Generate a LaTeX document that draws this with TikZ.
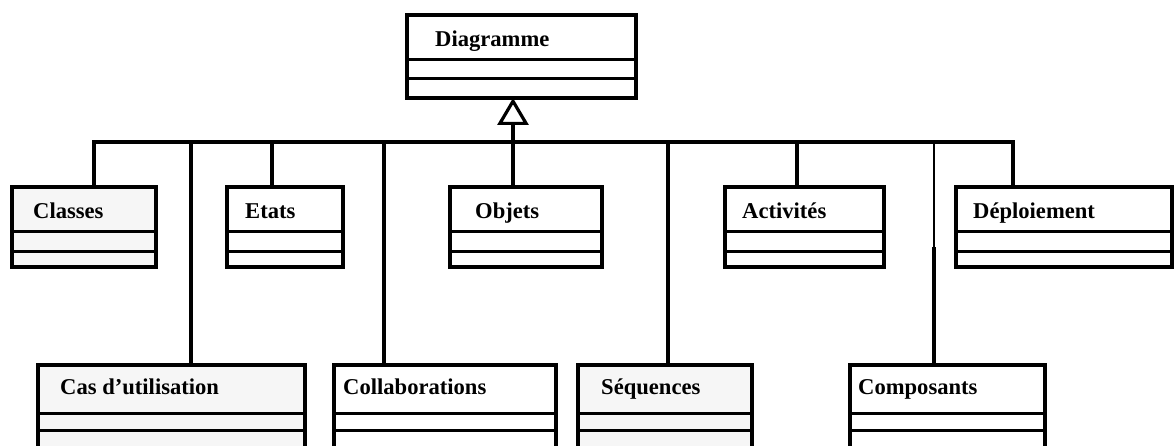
\documentclass[tikz,border=0pt]{standalone}
\usepackage{fontspec}
\setmainfont{Liberation Serif}
\usetikzlibrary{arrows.meta}
\definecolor{paleg}{HTML}{F6F6F6}
\tikzset{
  umlbox/.style={draw=black,line width=3.5pt,fill=white,inner sep=0pt,outer sep=0pt,rectangle},
  grayfill/.style={fill=paleg},
  whitefill/.style={fill=white},
  divider/.style={draw=black,line width=3pt},
  conn/.style={draw=black,line width=3.2pt},
  thinconn/.style={draw=black,line width=1.5pt},
  gen/.style={conn,-{Triangle[fill=white,length=27pt,width=31pt]}},
  lbl/.style={font=\fontsize{22.6}{26}\selectfont\bfseries,inner sep=0pt,anchor=base west},
}
\newcommand\umlclass[8]{%
  \node[umlbox,#2,minimum width={#5-#3},minimum height={#6-#4},anchor=north west] (#1) at (#3,#4) {};
  \coordinate (#1-d1) at (0,#7);
  \coordinate (#1-d2) at (0,#8);
  \draw[divider] (#1.west |- #1-d1) -- (#1.east |- #1-d1);
  \draw[divider] (#1.west |- #1-d2) -- (#1.east |- #1-d2);
}
\begin{document}
\begin{tikzpicture}[x=1pt,y=-1pt]
\useasboundingbox (0,0) rectangle (1176,446);
\fill[white] (0,0) rectangle (1176,446);
% connection coordinates
\coordinate (bus) at (0,142);
\coordinate (xcls) at (94,0);
\coordinate (xeta) at (272,0);
\coordinate (xobj) at (513,0);
\coordinate (xact) at (797,0);
\coordinate (xdep) at (1013,0);
\coordinate (xcas) at (191,0);
\coordinate (xcol) at (384,0);
\coordinate (xseq) at (668,0);
\coordinate (xcom) at (934,0);
\coordinate (comthick) at (934,247);
% boxes
\umlclass{diag}{whitefill}{407}{15}{636}{98}{60}{79}
\umlclass{cls}{grayfill}{12}{187}{156}{267}{232}{252}
\umlclass{eta}{whitefill}{227}{187}{343}{267}{232}{252}
\umlclass{obj}{whitefill}{450}{187}{602}{267}{232}{252}
\umlclass{act}{whitefill}{725}{187}{884}{267}{232}{252}
\umlclass{dep}{whitefill}{956}{187}{1172}{267}{232}{252}
\umlclass{cas}{grayfill}{38}{365}{305}{470}{413}{430}
\umlclass{col}{whitefill}{334}{365}{556}{470}{413}{430}
\umlclass{seq}{grayfill}{578}{365}{752}{470}{413}{430}
\umlclass{com}{whitefill}{850}{365}{1045}{470}{413}{430}
% labels
\node[lbl] (diag-t) at (435,47) {Diagramme};
\node[lbl] (cls-t) at (33,219) {Classes};
\node[lbl] (eta-t) at (245,219) {Etats};
\node[lbl] (obj-t) at (475,219) {Objets};
\node[lbl] (act-t) at (742,219) {Activités};
\node[lbl] (dep-t) at (973,219) {Déploiement};
\node[lbl] (cas-t) at (60,395) {Cas d’utilisation};
\node[lbl] (col-t) at (343,395) {Collaborations};
\node[lbl] (seq-t) at (601,395) {Séquences};
\node[lbl] (com-t) at (858,395) {Composants};
% connectors
\draw[conn] (cls.north -| xcls) -- (bus -| xcls) -- (bus -| xdep) -- (dep.north -| xdep);
\draw[conn] (eta.north -| xeta) -- (bus -| xeta);
\draw[conn] (act.north -| xact) -- (bus -| xact);
\draw[gen] (obj.north -| xobj) -- (diag.south -| xobj);
\draw[conn] (cas.north -| xcas) -- (bus -| xcas);
\draw[conn] (col.north -| xcol) -- (bus -| xcol);
\draw[conn] (seq.north -| xseq) -- (bus -| xseq);
\draw[conn] (com.north -| xcom) -- (comthick);
\draw[thinconn] (comthick) -- (bus -| xcom);
\end{tikzpicture}
\end{document}
